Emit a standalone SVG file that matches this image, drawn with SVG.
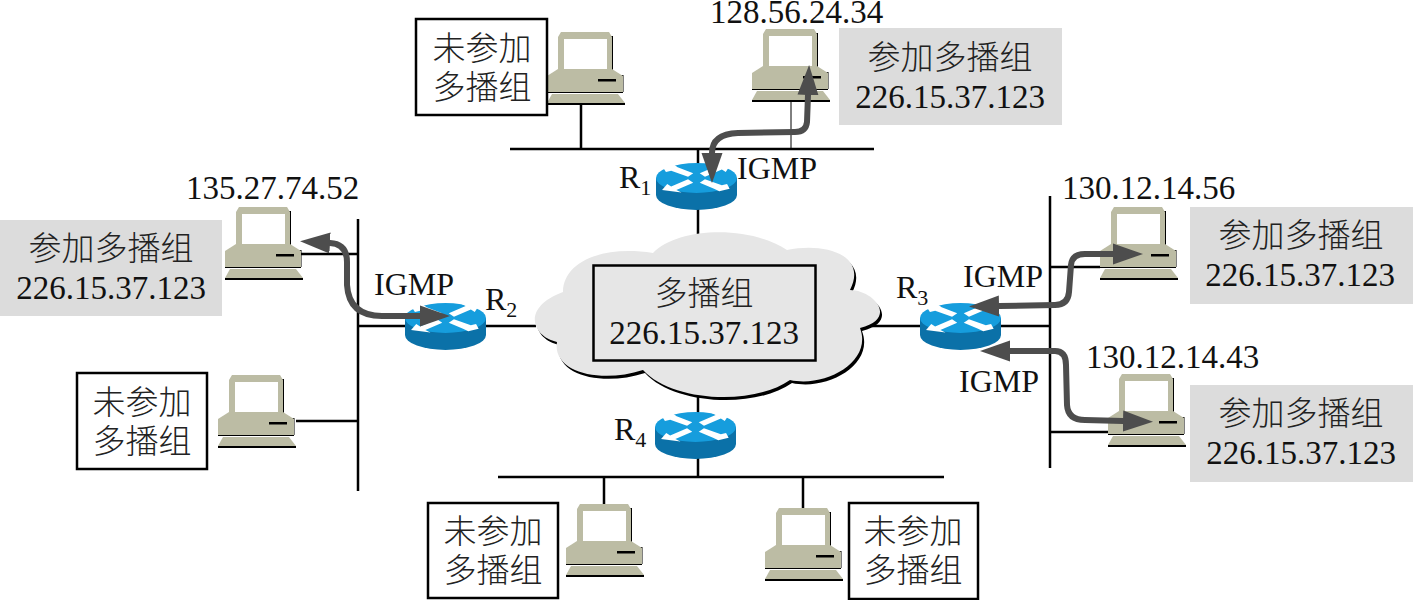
<svg xmlns="http://www.w3.org/2000/svg" xmlns:xlink="http://www.w3.org/1999/xlink" width="1413" height="600" viewBox="0 0 1413 600">
<style>
.l{stroke:#000;stroke-width:2.5;fill:none}
.t{font-family:"Liberation Serif","Noto Sans CJK SC",serif;fill:#111}
.n{font-size:33px;text-anchor:middle}
.ip{font-size:33px}
.i{font-size:32px}
.c{font-family:"Noto Sans CJK SC",sans-serif;font-size:33px;font-weight:300;text-anchor:middle;fill:#222}
.s{font-size:22px}
.a{stroke:#4d4d4d;stroke-width:6;fill:none;stroke-linecap:round;stroke-linejoin:round;marker-start:url(#ah);marker-end:url(#ah)}
.w{fill:#fff;stroke:#000;stroke-width:2.5}
.g{fill:#dcdcdc}
</style>
<defs>
<marker id="ah" markerUnits="userSpaceOnUse" markerWidth="32" markerHeight="24" viewBox="0 -12 32 24" refX="0" refY="0" orient="auto-start-reverse">
<path d="M0,-10.500 L30,0 L0,10.500 Z" fill="#4d4d4d"/>
</marker>
<g id="pc">
<path d="M64,4 H66 V38 H64 Z M10,71 H78 V73 H10 Z M74,43 H76.500 V60 H74 Z" fill="#000"/>
<path d="M14,0 H62 L65,5 V38 H11 V5 Z" fill="#bcbca4"/>
<rect x="17" y="7" width="43" height="30" fill="#fff"/>
<path d="M11,37 H65 L76,44 V60 H0 V44 Z" fill="#bcbca4"/>
<path d="M0,60 H76 V61 H0 Z" fill="#000"/>
<path d="M5,62 H71 L78,71 H0 Z" fill="#bcbca4"/>
<path d="M0,71 H78 V73 H0 Z" fill="#000"/>
<rect x="51" y="47" width="18" height="2.500" fill="#000"/>
</g>
<g id="rt">
<path d="M0,15 V32 A40.5,15 0 0 0 81,32 V15 Z" fill="#0b71a8"/>
<ellipse cx="40.500" cy="15" rx="40.500" ry="15" fill="#169ddd"/>
<path transform="translate(40.5,15) scale(1.3,1.2) translate(-40.5,-15)" d="M14,5 L22,3 L26,6 L38,11 L34,14 L21,9 L17,10 Z M66,24 L58,26 L54,24 L43,19 L47,16 L60,21 L64,20 Z M43,11 L56,5 L52,3 L66,5 L63,10 L60,8 L47,14 Z M38,19 L25,25 L29,27 L14,25 L18,20 L21,22 L34,16 Z" fill="#fff"/>
</g>
<path id="cp" d="M563,292 C563,263 600,245 653,253 C677,228 747,224 787,250 C825,242 868,255 850,290 C873,290 899,318 860,328 C873,362 825,388 790,380 C753,406 672,402 643,370 C600,384 552,372 557,342 C533,337 520,308 563,292 Z"/>
</defs>
<rect width="1413" height="600" fill="#fff"/>
<g id="links">
<path class="l" d="M510,149 H874 M581,104 V149 M698,149 V165 M698,209 V234 M358,219 V491 M301,254 H358 M296,421 H358 M358,326 H405 M486,326 H536 M1050,196 V468 M1050,267 H1100 M1050,432 H1108 M872,326 H921 M1001,326 H1050 M498,477 H944 M698,394 V413 M698,456 V477 M604,477 V504 M803,477 V508"/>
<path d="M791,102 V149" stroke="#000" stroke-width="1" fill="none"/>
</g>
<g id="cloud">
<use href="#cp" x="2" y="3" fill="#000"/>
<use href="#cp" fill="#e6e6e6"/>
<rect x="593.500" y="265.500" width="222" height="95" fill="#e6e6e6" stroke="#000" stroke-width="2.500"/>
<text class="c" x="704" y="305">多播组</text>
<text class="t n" x="704" y="344">226.15.37.123</text>
</g>
<g id="r1"><use href="#rt" x="656" y="163"/><text class="t i" x="619" y="188">R<tspan class="s" dy="7">1</tspan></text></g>
<g id="r2"><use href="#rt" x="405" y="303"/><text class="t i" x="485" y="310">R<tspan class="s" dy="7">2</tspan></text></g>
<g id="r3"><use href="#rt" x="920" y="303"/><text class="t i" x="896" y="298">R<tspan class="s" dy="7">3</tspan></text></g>
<g id="r4"><use href="#rt" x="655" y="412"/><text class="t i" x="614" y="440">R<tspan class="s" dy="7">4</tspan></text></g>
<g id="host-top-left"><use href="#pc" x="547" y="32"/><rect class="w" x="416" y="19" width="131" height="96"/><text class="c" x="482" y="60">未参加</text><text class="c" x="482" y="99">多播组</text></g>
<g id="host-top-right"><use href="#pc" x="752" y="29"/><rect class="g" x="839" y="28" width="223" height="97"/><text class="t ip" x="710" y="23">128.56.24.34</text><text class="c" x="950" y="69">参加多播组</text><text class="t n" x="950" y="108">226.15.37.123</text></g>
<g id="host-left-top"><use href="#pc" x="225" y="207"/><rect class="g" x="0" y="220" width="222" height="96"/><text class="t ip" x="186" y="199">135.27.74.52</text><text class="c" x="111" y="260">参加多播组</text><text class="t n" x="111" y="299">226.15.37.123</text></g>
<g id="host-left-bottom"><use href="#pc" x="218" y="375"/><rect class="w" x="77" y="373" width="130" height="96"/><text class="c" x="142" y="414">未参加</text><text class="c" x="142" y="453">多播组</text></g>
<g id="host-right-top"><use href="#pc" x="1100" y="207"/><rect class="g" x="1190" y="207" width="223" height="97"/><text class="t ip" x="1062" y="199">130.12.14.56</text><text class="c" x="1301" y="247">参加多播组</text><text class="t n" x="1300" y="286">226.15.37.123</text></g>
<g id="host-right-bottom"><use href="#pc" x="1108" y="374"/><rect class="g" x="1190" y="385" width="223" height="97"/><text class="t ip" x="1086" y="368">130.12.14.43</text><text class="c" x="1301" y="425">参加多播组</text><text class="t n" x="1301" y="464">226.15.37.123</text></g>
<g id="host-bottom-left"><use href="#pc" x="566" y="504"/><rect class="w" x="428" y="503" width="130" height="95"/><text class="c" x="493" y="543">未参加</text><text class="c" x="493" y="582">多播组</text></g>
<g id="host-bottom-right"><use href="#pc" x="765" y="508"/><rect class="w" x="849" y="503" width="129" height="96"/><text class="c" x="913" y="543">未参加</text><text class="c" x="913" y="582">多播组</text></g>
<g id="igmp">
<path class="a" d="M808,95 L807,122 Q806,132 795,132 L738,133 Q712,134 712,153"/>
<path class="a" d="M330,243 Q347,244 347,262 L347,285 Q349,316 382,316 L420,316"/>
<path class="a" d="M999,306 L1055,305 Q1068,305 1069,292 L1071,265 Q1072,254 1085,254 L1113,254"/>
<path class="a" d="M1010,351 L1055,351 Q1066,351 1066,365 L1067,405 Q1068,420 1085,420 L1123,421"/>
<text class="t i" x="737" y="179">IGMP</text>
<text class="t i" x="374" y="295">IGMP</text>
<text class="t i" x="963" y="287">IGMP</text>
<text class="t i" x="959" y="392">IGMP</text>
</g>
</svg>
